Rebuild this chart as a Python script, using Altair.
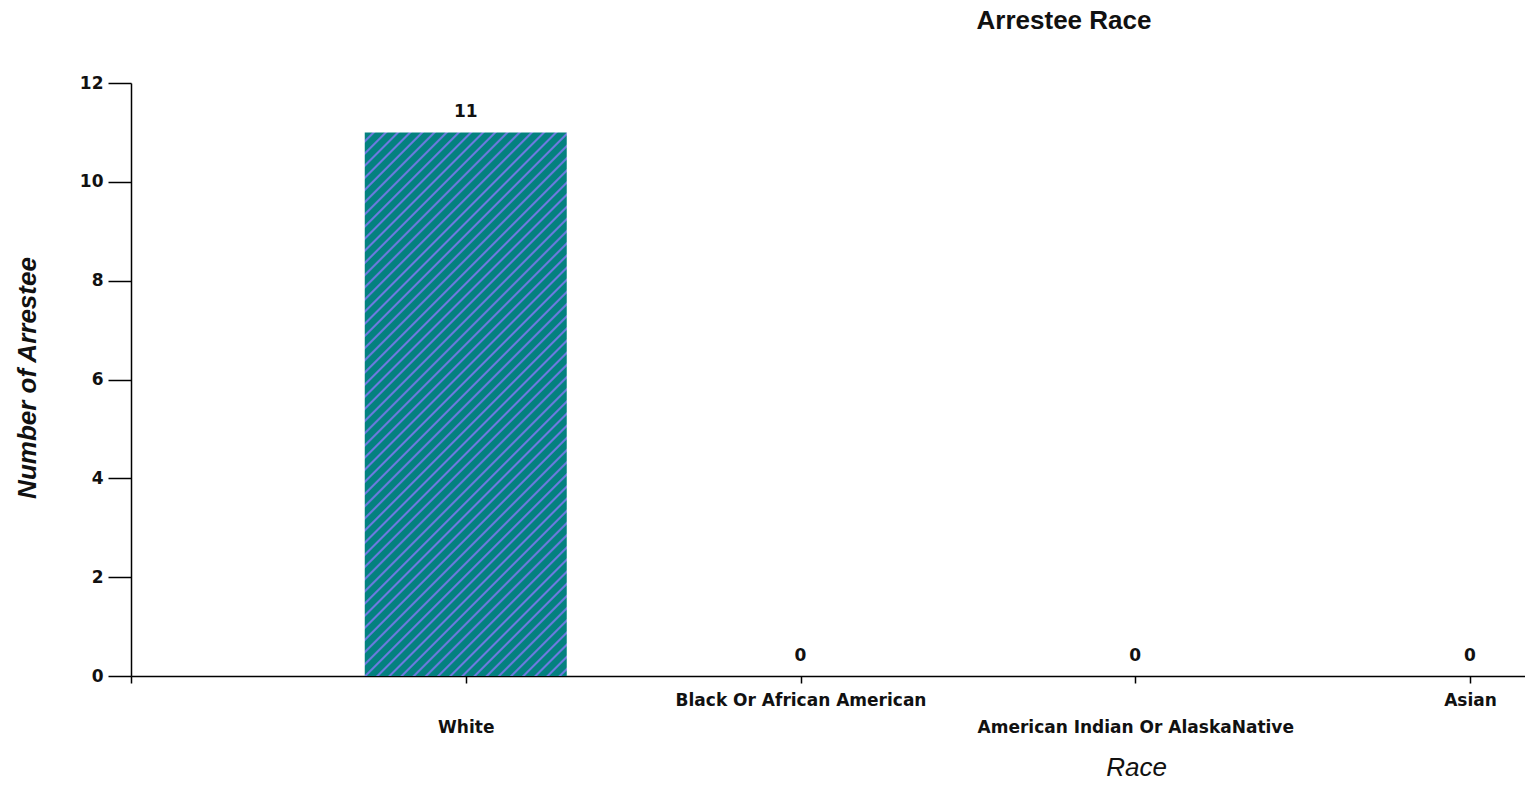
import math
import altair as alt
import pandas as pd

# ---- data ----
categories = ["White", "Black Or African American", "American Indian Or AlaskaNative", "Asian"]
counts = [11, 0, 0, 0]
positions = [1, 2, 3, 4]
x_ticks = [0, 1, 2, 3, 4]
y_ticks = [0, 2, 4, 6, 8, 10, 12]

df = pd.DataFrame({"race": categories, "count": counts, "pos": positions})

# ---- layout / style ----
W_PLOT = 1394
H_PLOT = 593
STEP = 334.75
X_MAX = W_PLOT / STEP
BAR_W = 202
Y_MAX = 12

teal = "#04817f"
stripe = "#6c7ae0"

# diagonal hatch made with a linear gradient (bounding-box units)
bar_h = H_PLOT * max(counts) / Y_MAX
c = (BAR_W + bar_h) / (BAR_W ** 2 + bar_h ** 2)
gx2 = c * BAR_W
gy2 = c * bar_h
diag = (BAR_W + bar_h) / math.sqrt(2)
period = 8.6
n = int(math.ceil(diag / period))
stops = []
last = -1
for k in range(n + 1):
    base = k * period / diag
    for frac, col in [(0.0, teal), (0.55, teal), (0.68, stripe), (0.79, stripe), (0.92, teal)]:
        off = base + frac * period / diag
        if off <= 1 and off > last:
            stops.append(alt.GradientStop(offset=off, color=col))
            last = off
hatch = alt.LinearGradient(gradient="linear", stops=stops, x1=0, y1=0, x2=gx2, y2=gy2)

label_expr = "".join(
    f"datum.value == {p} ? '{name}' : " for p, name in zip(positions, categories)
) + "''"

LABEL_FONT = "DejaVu Sans"

x_enc = alt.X(
    "pos:Q",
    scale=alt.Scale(domain=[0, X_MAX], nice=False, zero=False, padding=0),
    axis=alt.Axis(
        values=x_ticks,
        labelExpr=label_expr,
        title="Race",
        grid=False,
        tickSize=7,
        labelPadding={"condition": {"test": "datum.value % 2 == 1", "value": 49}, "value": 22},
        labelBaseline="alphabetic",
        labelFont=LABEL_FONT,
        labelFontWeight="bold",
        labelFontSize=17,
        labelColor="#111111",
        labelOverlap=False,
        labelFlush=False,
        labelLimit=0,
        titleX=1005,
        titleY=99,
        titleAlign="center",
        titleBaseline="alphabetic",
        titleFont="Liberation Sans",
        titleFontStyle="italic",
        titleFontWeight="normal",
        titleFontSize=26,
        titleColor="#111111",
        domainColor="black",
        domainWidth=1.5,
        tickColor="black",
        tickWidth=1.5,
    ),
)

y_enc = alt.Y(
    "count:Q",
    scale=alt.Scale(domain=[0, Y_MAX], nice=False),
    axis=alt.Axis(
        values=y_ticks,
        title="Number of Arrestee",
        grid=False,
        tickSize=23,
        labelPadding=5,
        labelFont=LABEL_FONT,
        labelFontWeight="bold",
        labelFontSize=17,
        labelColor="#111111",
        titleX=-96,
        titleY=294.5,
        titleAngle=270,
        titleAlign="center",
        titleBaseline="alphabetic",
        titleFont="Liberation Sans",
        titleFontStyle="italic",
        titleFontWeight="bold",
        titleFontSize=26,
        titleColor="#111111",
        domainColor="black",
        domainWidth=1.5,
        tickColor="black",
        tickWidth=1.5,
    ),
)

bars = alt.Chart(df).mark_bar(width=BAR_W, color=hatch).encode(x=x_enc, y=y_enc)

labels = alt.Chart(df).mark_text(
    dy=-15, baseline="alphabetic", font=LABEL_FONT, fontWeight="bold", fontSize=17, color="#111111"
).encode(x="pos:Q", y="count:Q", text="count:Q")

chart = (
    alt.layer(bars, labels)
    .properties(
        width=W_PLOT,
        height=H_PLOT,
        title=alt.TitleParams(
            "Arrestee Race",
            anchor="middle",
            dx=236,
            offset=19,
            baseline="alphabetic",
            font="Liberation Sans",
            fontWeight="bold",
            fontSize=26,
            color="#111111",
        ),
        autosize=alt.AutoSizeParams(type="none"),
        padding={"left": 123, "top": 75, "right": 0, "bottom": 101},
    )
    .configure_view(strokeWidth=0)
)

chart.save("out.html", embed_options={"renderer": "svg", "actions": False})
